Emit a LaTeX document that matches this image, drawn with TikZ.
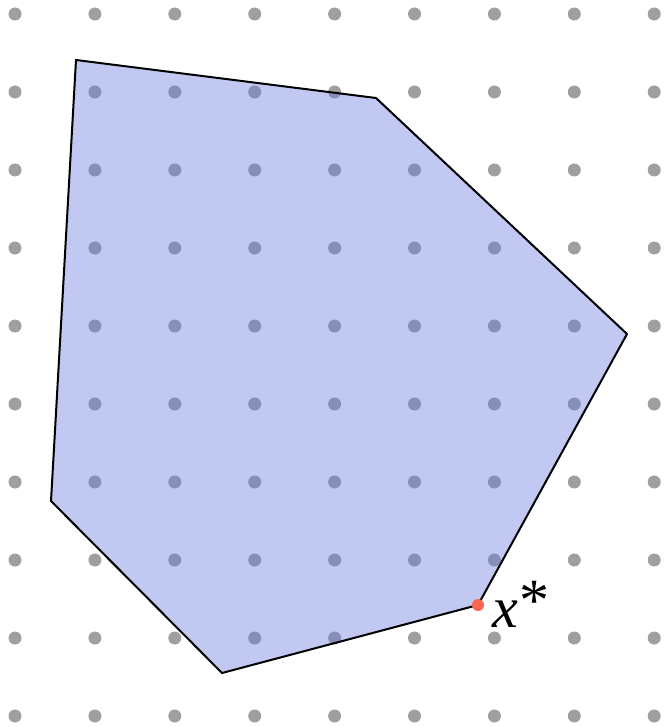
\documentclass[tikz,border=0pt]{standalone}
\usepackage{fontspec}
\setmainfont{Liberation Serif}
\usetikzlibrary{positioning}
\definecolor{hullblue}{RGB}{100,118,222}
\definecolor{optred}{RGB}{250,100,80}

\begin{document}
\begin{tikzpicture}[
  x=0.5pt,
  y=-0.5pt,
  line cap=round,
  line join=round,
  latpt/.style={circle, fill=black!37.5, minimum size=6.5pt, inner sep=0},
  region/.style={draw=black, line width=1pt, fill=hullblue, fill opacity=0.4},
  optpt/.style={circle, fill=optred, minimum size=6pt, inner sep=0},
  every node/.style={inner sep=0}
]
\path[use as bounding box] (0,0) rectangle (663,727);
\fill[white] (0,0) rectangle (663,727);

% Integer lattice
\foreach \i in {0,...,8}
  \foreach \j in {0,...,9}
    \node[latpt] (p\i\j) at ({15+79.9*\i},{14+78*\j}) {};

% Polytope corners
\coordinate (v1) at (76,60);
\coordinate (v2) at (376,98);
\coordinate (v3) at (627,334);
\coordinate (v4) at (478,605);
\coordinate (v5) at (222,673);
\coordinate (v6) at (51,501);

\draw[region] (v1) -- (v2) -- (v3) -- (v4) -- (v5) -- (v6) -- cycle;

% Optimal vertex
\node[optpt] (xstar) at (v4) {};
\node[font=\fontsize{29}{33}\selectfont, anchor=base west] (xlabel) at (492,627)
  {\itshape x\upshape\kern0.02em\raisebox{0.12em}{\fontsize{30}{34}\selectfont *}};

\end{tikzpicture}
\end{document}
